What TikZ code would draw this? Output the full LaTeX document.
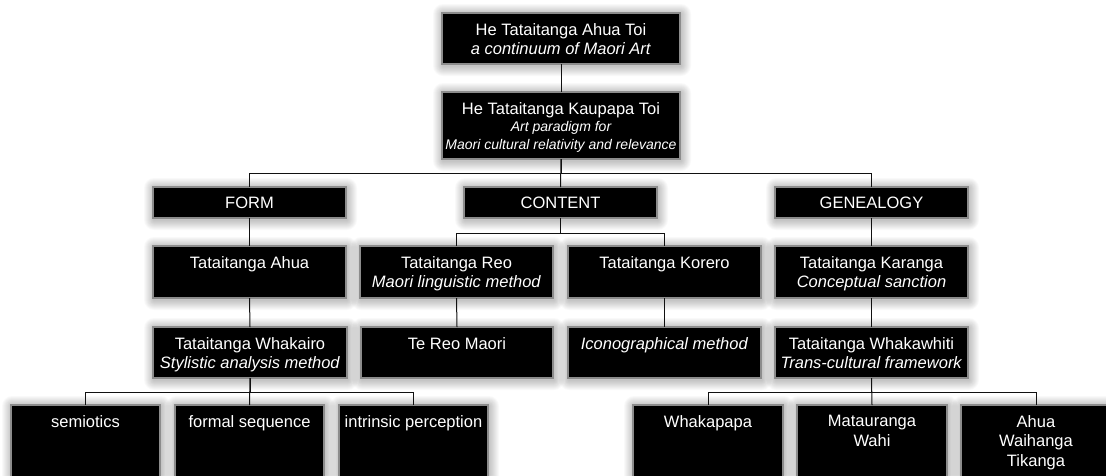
\documentclass[tikz,border=0pt]{standalone}
\usepackage{fontspec}
\setmainfont{Liberation Sans}
\definecolor{boxgray}{HTML}{8C8C8C}
\definecolor{linegray}{HTML}{111111}
\tikzset{
  bx/.style={draw=boxgray, line width=1.5pt, fill=black, inner sep=0pt, outer sep=0pt},
  tx/.style={text=white, font=\fontsize{16.5}{19.5}\selectfont, align=center, inner sep=0pt, anchor=north},
  ln/.style={draw=linegray, line width=1pt},
  shd/.style={fill=black, fill opacity=0.025}
}
\newcommand\mkbox[6]{%
  \foreach \r in {1,2,...,10} {\fill[shd, rounded corners={\r*1pt}] ({#2-\r+1},{#4-\r+1}) rectangle ({#3+\r+1},{#5+\r+2});}
  \node[bx, minimum width={(#3-#2)*1pt}, minimum height={(#5-#4)*1pt}] (#1) at ({(#2+#3)/2},{(#4+#5)/2}) {};
  \node[tx] (#1t) at ([yshift=-10pt]#1.north) {#6};
}
\begin{document}
\begin{tikzpicture}[x=1pt,y=-1pt]
\useasboundingbox (0,0) rectangle (1106,475);
\clip (0,0) rectangle (1106,475);
\fill[white] (0,0) rectangle (1106,475);
% level 1-2
\mkbox{top}{442}{680}{13}{64}{He Tataitanga Ahua Toi\\\textit{a continuum of Maori Art}}
\mkbox{kaup}{442}{680}{92}{159}{He Tataitanga Kaupapa Toi\\[-2pt]{\fontsize{14}{17.5}\selectfont\itshape Art paradigm for}\\[-2pt]{\fontsize{14}{17.5}\selectfont\itshape Maori cultural relativity and relevance}}
% level 3
\mkbox{form}{153}{346}{187}{218}{FORM}
\mkbox{cont}{464}{657}{187}{218}{CONTENT}
\mkbox{gen}{775}{968}{187}{218}{GENEALOGY}
% level 4
\mkbox{ahua}{153}{346}{246}{298}{Tataitanga Ahua}
\mkbox{reo}{360}{553}{246}{298}{Tataitanga Reo\\\textit{Maori linguistic method}}
\mkbox{korero}{568}{761}{246}{298}{Tataitanga Korero}
\mkbox{karanga}{775}{968}{246}{298}{Tataitanga Karanga\\\textit{Conceptual sanction}}
% level 5
\mkbox{whakairo}{153}{347}{327}{378}{Tataitanga Whakairo\\\textit{Stylistic analysis method}}
\mkbox{tereo}{361}{553}{327}{378}{Te Reo Maori}
\mkbox{icon}{568}{761}{327}{378}{\textit{Iconographical method}}
\mkbox{whakawhiti}{775}{968}{327}{378}{Tataitanga Whakawhiti\\\textit{Trans-cultural framework}}
% level 6
\mkbox{semi}{11}{160}{405}{495}{semiotics}
\mkbox{formal}{175}{324}{405}{495}{formal sequence}
\mkbox{intr}{339}{488}{405}{495}{intrinsic perception}
\mkbox{whakapapa}{633}{783}{405}{495}{Whakapapa}
\mkbox{mata}{797}{947}{405}{495}{Matauranga\\Wahi}
\mkbox{ahuaw}{961}{1111}{405}{495}{Ahua\\Waihanga\\Tikanga}
% connectors
\draw[ln] (top.south) -- (kaup.north);
\draw[ln] (kaup.south) -- (cont.north);
\draw[ln] (kaup.south) -- ++(0,14) -| (form.north);
\draw[ln] (kaup.south) -- ++(0,14) -| (gen.north);
\draw[ln] (form.south) -- (ahua.north);
\draw[ln] (ahua.south) -- (whakairo.north);
\draw[ln] (cont.south) -- ++(0,15) -| (reo.north);
\draw[ln] (cont.south) -- ++(0,15) -| (korero.north);
\draw[ln] (reo.south) -- (tereo.north);
\draw[ln] (korero.south) -- (icon.north);
\draw[ln] (gen.south) -- (karanga.north);
\draw[ln] (karanga.south) -- (whakawhiti.north);
\draw[ln] (whakairo.south) -- (formal.north);
\draw[ln] (whakairo.south) -- ++(0,14) -| (semi.north);
\draw[ln] (whakairo.south) -- ++(0,14) -| (intr.north);
\draw[ln] (whakawhiti.south) -- (mata.north);
\draw[ln] (whakawhiti.south) -- ++(0,14) -| (whakapapa.north);
\draw[ln] (whakawhiti.south) -- ++(0,14) -| (ahuaw.north);
\end{tikzpicture}
\end{document}
